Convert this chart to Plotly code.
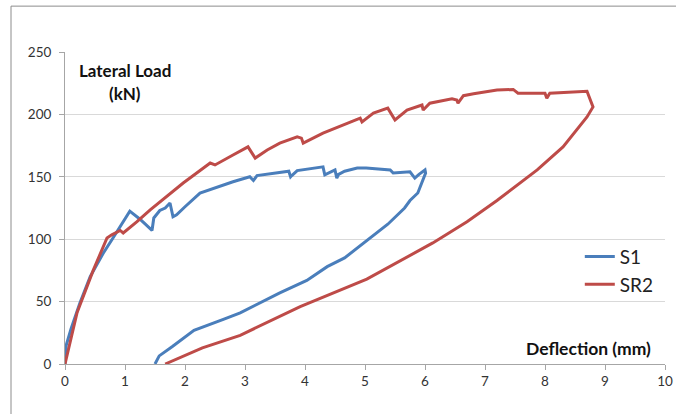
import plotly.graph_objects as go

# S1 specimen: loading then unloading
s1_x = [0, 0.02, 0.1, 0.25, 0.42, 0.64, 0.8, 0.95, 1.08, 1.25, 1.42, 1.45, 1.48, 1.58, 1.67, 1.75, 1.8, 1.86,
        2.0, 2.25, 2.8, 3.08, 3.14, 3.2, 3.73, 3.76, 3.78, 3.87, 4.3, 4.33, 4.5, 4.53, 4.56, 4.66, 4.87, 5.02,
        5.42, 5.47, 5.75, 5.83, 5.9, 6.0, 6.01,
        5.88, 5.75, 5.66, 5.38, 5.03, 4.66, 4.37, 4.03, 3.58, 2.92, 2.65, 2.15, 1.79, 1.57, 1.5]
s1_y = [0, 15, 28, 49, 70, 89, 101, 113, 122.5, 116, 108, 107, 117, 123, 125, 129, 118, 119.5,
        126, 137, 146, 150, 147, 151, 154.5, 150, 151, 155, 158, 151.5, 155.5, 149, 152, 154.5, 157, 157,
        155.5, 153, 154, 149, 152, 155.5, 153,
        137, 131, 125, 112, 99, 85, 78, 67, 57, 41, 36, 27, 14, 6.5, 0]

# SR2 specimen: loading then unloading
sr2_x = [0, 0.2, 0.47, 0.7, 0.78, 0.92, 0.97, 1.2, 1.42, 1.97, 2.42, 2.5, 2.8, 3.05, 3.17, 3.37, 3.58, 3.87,
         3.94, 3.97, 4.3, 4.66, 4.92, 4.95, 5.14, 5.38, 5.45, 5.5, 5.7, 5.95, 5.97, 6.08, 6.45, 6.53, 6.55,
         6.64, 6.81, 7.2, 7.47, 7.55, 8.0, 8.03, 8.08, 8.7,
         8.8, 8.7, 8.3, 7.87, 7.2, 6.7, 6.13, 5.03, 3.92, 2.92, 2.29, 1.67]
sr2_y = [0, 41, 75, 101, 103.5, 107, 105, 114, 123.5, 145, 161, 159.5, 167.5, 174, 165, 171.5, 177, 182,
         181, 177, 185, 192, 197, 194, 201, 205, 199, 195.5, 203.5, 207.5, 203.5, 209, 212.5, 211.5, 209,
         215, 216.5, 219.5, 220, 217, 217, 213, 217, 218.5,
         206, 198, 174, 155.5, 131, 114, 97, 68, 46, 23, 13, 0]

x_ticks = [0, 1, 2, 3, 4, 5, 6, 7, 8, 9, 10]
y_ticks = [0, 50, 100, 150, 200, 250]

FONT = "Lato, Noto Sans, sans-serif"
AXIS_COL = "#a6a6a6"

fig = go.Figure()
fig.add_trace(go.Scatter(x=s1_x, y=s1_y, mode="lines", name="S1",
                         line=dict(color="#4a7ebb", width=3), legendgroup="a"))
fig.add_trace(go.Scatter(x=sr2_x, y=sr2_y, mode="lines", name="SR2",
                         line=dict(color="#be4b48", width=3), legendgroup="b"))

fig.update_layout(
    width=676, height=414,
    margin=dict(l=65, r=11, t=52, b=50, autoexpand=False),
    paper_bgcolor="white", plot_bgcolor="white",
    font=dict(family=FONT, color="#333333", size=14),
    showlegend=True,
    legend=dict(x=0.858, y=0.405, xanchor="left", yanchor="top",
                font=dict(size=19, family=FONT, color="#222222"),
                bgcolor="rgba(0,0,0,0)", tracegroupgap=0, traceorder="grouped",
                itemwidth=30),
    xaxis=dict(range=[0, 10], tickvals=x_ticks, showgrid=False, zeroline=False,
               showline=True, linecolor=AXIS_COL, linewidth=1, automargin=False,
               ticks="outside", ticklen=5, tickcolor=AXIS_COL,
               tickfont=dict(size=13.5, family=FONT, color="#333333")),
    yaxis=dict(range=[0, 250], tickvals=y_ticks, showgrid=True, gridcolor="#d9d9d9", gridwidth=1,
               zeroline=False, showline=True, linecolor=AXIS_COL, linewidth=1, automargin=False,
               ticks="outside", ticklen=5, tickcolor=AXIS_COL, ticklabelstandoff=5,
               tickfont=dict(size=13.5, family=FONT, color="#333333")),
    annotations=[
        dict(text="<b>Lateral Load</b>", xref="paper", yref="paper", x=0.1, y=0.94,
             xanchor="center", yanchor="middle",
             showarrow=False, font=dict(size=17, family=FONT, color="#111111")),
        dict(text="<b>(kN)</b>", xref="paper", yref="paper", x=0.1, y=0.866,
             xanchor="center", yanchor="middle",
             showarrow=False, font=dict(size=17, family=FONT, color="#111111")),
        dict(text="<b>Deflection (mm)</b>", xref="paper", yref="paper", x=0.873, y=0.05,
             xanchor="center", yanchor="middle",
             showarrow=False, font=dict(size=17.5, family=FONT, color="#111111")),
    ],
    shapes=[
        dict(type="rect", xref="paper", yref="paper", x0=-0.09, y0=-0.3, x1=1.2, y1=1.147,
             line=dict(color="#8c8c8c", width=1), layer="below"),
    ],
)

fig.write_html("out.html")
